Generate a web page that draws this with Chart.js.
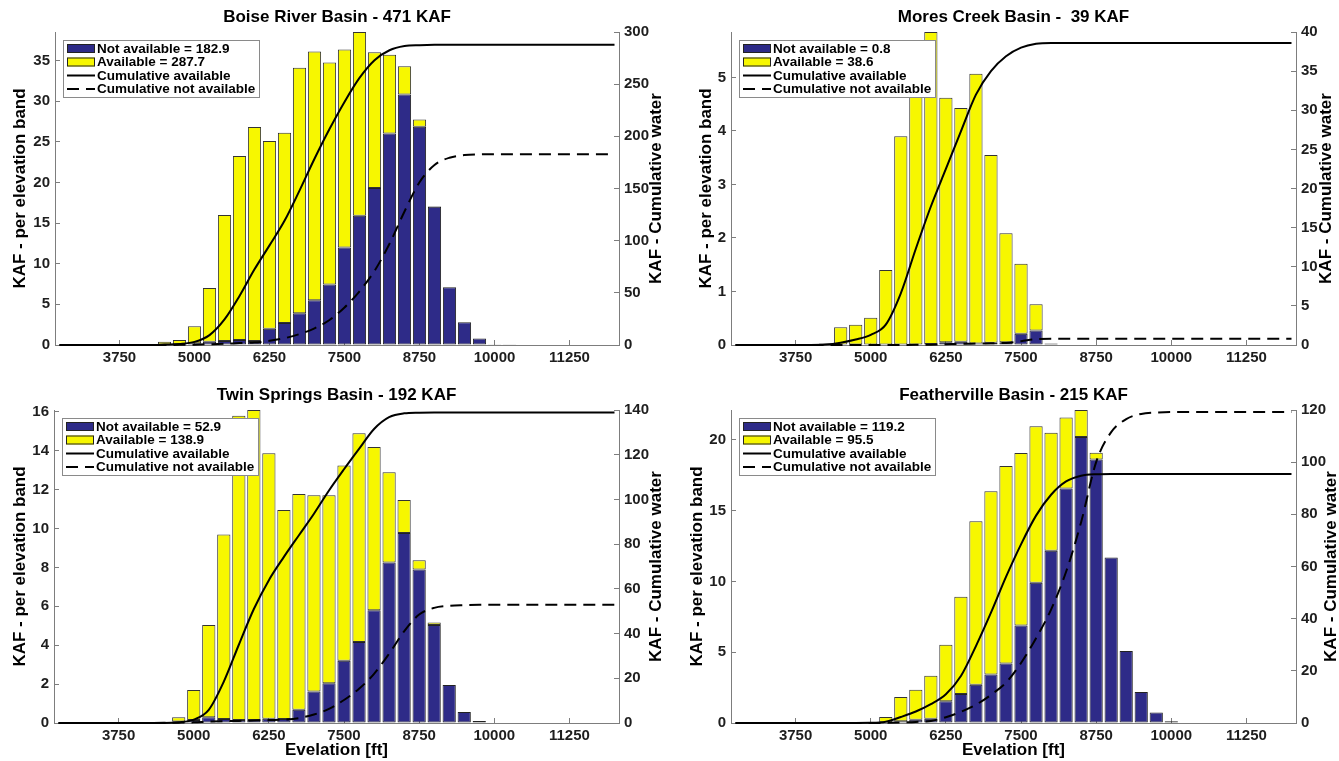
<!DOCTYPE html>
<html>
<head>
<meta charset="utf-8">
<script src="https://cdn.jsdelivr.net/npm/chart.js@4.4.1/dist/chart.umd.min.js"></script>
<style>
html,body{margin:0;padding:0;background:#ffffff;}
body{width:1339px;height:761px;position:relative;overflow:hidden;}
canvas{position:absolute;display:block;}
</style>
</head>
<body>
<canvas id="c0" width="669" height="380" style="left:0px;top:0px"></canvas>
<canvas id="c1" width="669" height="380" style="left:670px;top:0px"></canvas>
<canvas id="c2" width="669" height="381" style="left:0px;top:380px"></canvas>
<canvas id="c3" width="669" height="381" style="left:670px;top:380px"></canvas>
<script>
// ---------------- DATA ----------------
const elevation = [2750,3000,3250,3500,3750,4000,4250,4500,4750,5000,5250,5500,5750,6000,6250,6500,6750,7000,7250,7500,7750,8000,8250,8500,8750,9000,9250,9500,9750,10000,10250,10500,10750,11000,11250,11500,11750,12000];
const xTickLabels = [3750,5000,6250,7500,8750,10000,11250];

const boiseNotAvailable = [0,0,0,0,0,0,0,0.05,0.1,0.2,0.4,0.5,0.6,0.5,2.0,2.7,3.9,5.5,7.45,12.0,15.9,19.3,26.0,30.8,26.85,17.0,7.1,2.8,0.8,0.1,0.02,0,0,0,0,0,0,0];
const boiseAvailable = [0,0,0,0,0,0,0,0.35,0.5,2.1,6.6,15.5,22.65,26.3,23.1,23.4,30.2,30.6,27.3,24.35,22.6,16.7,9.7,3.5,0.9,0.07,0,0,0,0,0,0,0,0,0,0,0,0];
const boiseCumAvailable = [0,0,0,0,0,0,0,0.4,1.0,3.0,9.5,24.5,47,72.5,95.5,119,148,178.5,207,233,256,273,282.5,286.5,287.4,287.7,287.7,287.7,287.7,287.7,287.7,287.7,287.7,287.7,287.7,287.7,287.7,287.7];
const boiseCumNotAvailable = [0,0,0,0,0,0,0,0.05,0.15,0.35,0.75,1.2,1.8,2.3,4.0,6.5,10.5,16,24,36,51.5,71,97,128,156,172.5,179.5,182,182.7,182.9,182.9,182.9,182.9,182.9,182.9,182.9,182.9,182.9];
const boiseLeftTicks = [0,5,10,15,20,25,30,35];
const boiseRightTicks = [0,50,100,150,200,250,300];

const moresNotAvailable = [0,0,0,0,0,0,0,0,0,0,0,0.01,0.01,0.02,0.05,0.06,0.03,0.04,0.05,0.21,0.27,0.02,0,0,0,0,0,0,0,0,0,0,0,0,0,0,0,0];
const moresAvailable = [0,0,0,0,0,0,0.03,0.33,0.38,0.51,1.40,3.89,4.92,5.83,4.57,4.37,5.04,3.51,2.04,1.31,0.49,0.01,0,0,0,0,0,0,0,0,0,0,0,0,0,0,0,0];
const moresCumAvailable = [0,0,0,0,0,0,0.05,0.3,0.7,1.3,2.6,6.6,12.3,17.7,22.5,27.3,32.0,35.0,36.9,38.0,38.5,38.6,38.6,38.6,38.6,38.6,38.6,38.6,38.6,38.6,38.6,38.6,38.6,38.6,38.6,38.6,38.6,38.6];
const moresCumNotAvailable = [0,0,0,0,0,0,0,0,0,0,0,0.01,0.02,0.04,0.09,0.15,0.18,0.22,0.27,0.48,0.75,0.8,0.8,0.8,0.8,0.8,0.8,0.8,0.8,0.8,0.8,0.8,0.8,0.8,0.8,0.8,0.8,0.8];
const moresLeftTicks = [0,1,2,3,4,5];
const moresRightTicks = [0,5,10,15,20,25,30,35,40];

const twinNotAvailable = [0,0,0,0,0,0,0.03,0.05,0.08,0.15,0.3,0.2,0.15,0.15,0.22,0.2,0.68,1.62,2.05,3.2,4.17,5.8,8.25,9.77,7.89,5.04,1.96,0.56,0.1,0.02,0,0,0,0,0,0,0,0];
const twinAvailable = [0,0,0,0,0,0,0,0,0.22,1.55,4.74,9.5,15.65,15.95,13.65,10.76,11.1,10.09,9.66,10.05,10.73,8.4,4.65,1.7,0.48,0.13,0,0,0,0,0,0,0,0,0,0,0,0];
const twinCumAvailable = [0,0,0,0,0,0,0,0,0.3,1.5,5.9,18.5,35,51,63.9,74.3,84,93.6,104,113.5,122.6,131.5,136.8,138.5,138.8,138.9,138.9,138.9,138.9,138.9,138.9,138.9,138.9,138.9,138.9,138.9,138.9,138.9];
const twinCumNotAvailable = [0,0,0,0,0,0,0.03,0.08,0.16,0.3,0.6,0.8,0.95,1.1,1.3,1.5,2.2,3.8,6.3,10.3,15.3,22,31,41,48.5,51.5,52.4,52.7,52.85,52.9,52.9,52.9,52.9,52.9,52.9,52.9,52.9,52.9];
const twinLeftTicks = [0,2,4,6,8,10,12,14,16];
const twinRightTicks = [0,20,40,60,80,100,120,140];

const featherNotAvailable = [0,0,0,0,0,0,0,0,0,0,0.05,0.12,0.23,0.3,1.53,2.04,2.7,3.43,4.2,6.88,9.9,12.16,16.55,20.19,18.6,11.69,5.09,2.18,0.75,0.12,0,0,0,0,0,0,0,0];
const featherAvailable = [0,0,0,0,0,0,0,0,0,0.05,0.37,1.71,2.12,3.03,3.99,6.88,11.55,12.93,13.95,12.18,11.06,8.33,5.02,1.91,0.48,0,0,0,0,0,0,0,0,0,0,0,0,0];
const featherCumAvailable = [0,0,0,0,0,0,0,0,0,0.05,0.5,2.3,4.4,7.2,11,18,29.5,42.3,56,68.5,79.5,87.5,92.6,94.8,95.4,95.5,95.5,95.5,95.5,95.5,95.5,95.5,95.5,95.5,95.5,95.5,95.5,95.5];
const featherCumNotAvailable = [0,0,0,0,0,0,0,0,0,0,0.05,0.2,0.4,0.8,2.2,4.3,7.0,10.8,15.5,23,32.5,43.5,58,77,100,111.5,116.5,118.5,119.0,119.2,119.2,119.2,119.2,119.2,119.2,119.2,119.2,119.2];
const featherLeftTicks = [0,5,10,15,20];
const featherRightTicks = [0,20,40,60,80,100,120];

const panelTitles = ['Boise River Basin - 471 KAF','Mores Creek Basin -  39 KAF','Twin Springs Basin - 192 KAF','Featherville Basin - 215 KAF'];
const notAvailableLabels = ['Not available = 182.9','Not available = 0.8','Not available = 52.9','Not available = 119.2'];
const availableLabels = ['Available = 287.7','Available = 38.6','Available = 138.9','Available = 95.5'];
const leftMax = [38.5, 5.85, 16.1, 22.1];
const rightMax = [300, 40, 140, 120];
const leftAxisTitle = 'KAF - per elevation band';
const rightAxisTitle = 'KAF - Cumulative water';
const xAxisTitle = 'Evelation [ft]';

// ---------------- STYLE / LAYOUT ----------------
const FONT = '"Liberation Sans", Arial, Helvetica, sans-serif';
const BLUE = '#2e2b88';
const YELLOW = '#f7f700';
const AXIS = '#7d7d7d';
const TEXT = '#1e1e1e';

const layouts = [
  {w:669,h:380,left:55,right:619,top:32,bottom:345,yTitlePad:10.3,rTitleX:656,xTitle:false},
  {w:669,h:380,left:61,right:626,top:32,bottom:345,yTitlePad:25.8,rTitleX:656,xTitle:false},
  {w:669,h:381,left:54,right:619,top:30,bottom:343,yTitlePad:9.8,rTitleX:656,xTitle:true},
  {w:669,h:381,left:61,right:626,top:30,bottom:343,yTitlePad:16.8,rTitleX:661,xTitle:true}
];

const decor = {
  id: 'decor',
  afterDatasetsDraw(chart, args, o) {
    const ctx = chart.ctx, ca = chart.chartArea;
    ctx.save();
    ctx.font = 'bold 13.5px ' + FONT;
    const dss = chart.data.datasets;
    let maxW = 0;
    dss.forEach(d => { maxW = Math.max(maxW, ctx.measureText(d.label).width); });
    const lx = Math.round(ca.left + 8), ly = Math.round(ca.top + 8);
    const lw = Math.round(34 + maxW + 4), lh = 57;
    ctx.fillStyle = '#ffffff';
    ctx.fillRect(lx, ly, lw, lh);
    ctx.strokeStyle = '#8a8a8a'; ctx.lineWidth = 1;
    ctx.strokeRect(lx + 0.5, ly + 0.5, lw, lh);
    dss.forEach((d, i) => {
      const cy = ly + 8.5 + i * 13.5;
      const sx = lx + 4, sw = 28;
      if (d.type === 'bar') {
        ctx.fillStyle = d.backgroundColor;
        ctx.fillRect(sx, cy - 4.5, sw, 9);
        ctx.strokeStyle = '#222'; ctx.lineWidth = 1;
        ctx.strokeRect(sx + 0.5, cy - 4, sw - 1, 8);
      } else {
        ctx.setLineDash(d.borderDash || []);
        ctx.beginPath(); ctx.moveTo(sx, cy); ctx.lineTo(sx + sw, cy);
        ctx.strokeStyle = d.borderColor; ctx.lineWidth = 2; ctx.stroke();
        ctx.setLineDash([]);
      }
      ctx.fillStyle = '#000';
      ctx.textBaseline = 'middle'; ctx.textAlign = 'left';
      ctx.fillText(d.label, lx + 34, cy + 0.5);
    });
    ctx.restore();
  },
  afterDraw(chart, args, o) {
    const ctx = chart.ctx, ca = chart.chartArea;
    ctx.save();
    ctx.fillStyle = '#000';
    ctx.font = 'bold 17px ' + FONT;
    ctx.textAlign = 'center'; ctx.textBaseline = 'middle';
    ctx.fillText(o.title, (ca.left + ca.right) / 2, ca.top - 15);
    ctx.translate(o.rTitleX, (ca.top + ca.bottom) / 2);
    ctx.rotate(-Math.PI / 2);
    ctx.fillText(o.rightTitle, 0, 0);
    ctx.restore();
  }
};

function zeroPad(s) { s.paddingLeft = 0; s.paddingRight = 0; s.paddingTop = 0; s.paddingBottom = 0; }
function tickSetter(arr) { return s => { s.ticks = arr.map(v => ({value: v})); }; }

function makePanel(i, notAvail, avail, cumAvail, cumNot, lTicks, rTicks) {
  const L = layouts[i];
  const pts = arr => elevation.map((x, k) => ({x: x, y: arr[k]}));
  const tickFont = {family: FONT, size: 15, weight: 'bold'};
  new Chart(document.getElementById('c' + i), {
    type: 'bar',
    plugins: [decor],
    data: {
      datasets: [
        {type: 'bar', label: notAvailableLabels[i], data: pts(notAvail), backgroundColor: BLUE, borderColor: '#222', borderWidth: 1, borderSkipped: false, yAxisID: 'y', order: 2, barPercentage: 0.88, categoryPercentage: 1.0},
        {type: 'bar', label: availableLabels[i], data: pts(avail), backgroundColor: YELLOW, borderColor: '#333', borderWidth: 1, borderSkipped: false, yAxisID: 'y', order: 2, barPercentage: 0.88, categoryPercentage: 1.0},
        {type: 'line', label: 'Cumulative available', data: pts(cumAvail), borderColor: '#000', borderWidth: 2, pointRadius: 0, tension: 0.4, cubicInterpolationMode: 'monotone', yAxisID: 'y1', order: 1, clip: false, fill: false},
        {type: 'line', label: 'Cumulative not available', data: pts(cumNot), borderColor: '#000', borderWidth: 2, borderDash: [12, 7], pointRadius: 0, tension: 0.4, cubicInterpolationMode: 'monotone', yAxisID: 'y1', order: 1, clip: false, fill: false}
      ]
    },
    options: {
      responsive: false,
      animation: false,
      events: [],
      layout: {padding: {top: L.top, left: 0, right: 0, bottom: 0}},
      plugins: {
        legend: {display: false},
        tooltip: {enabled: false},
        title: {display: false},
        decor: {title: panelTitles[i], rightTitle: rightAxisTitle, rTitleX: L.rTitleX}
      },
      scales: {
        x: {
          type: 'linear', min: 2675, max: 12075, offset: false, stacked: true,
          afterBuildTicks: tickSetter(xTickLabels),
          afterFit: s => { s.height = L.h - L.bottom; zeroPad(s); },
          ticks: {autoSkip: false, maxRotation: 0, minRotation: 0, padding: 9, color: TEXT, font: tickFont, callback: v => String(v)},
          grid: {display: true, drawOnChartArea: false, drawTicks: true, tickLength: -5, color: AXIS, offset: false},
          border: {display: true, color: AXIS, width: 1},
          title: {display: L.xTitle, text: xAxisTitle, color: '#000', font: {family: FONT, size: 17, weight: 'bold'}, padding: {top: 0, bottom: 0.8}}
        },
        y: {
          type: 'linear', position: 'left', min: 0, max: leftMax[i], stacked: true,
          afterBuildTicks: tickSetter(lTicks),
          afterFit: s => { s.width = L.left; zeroPad(s); },
          ticks: {padding: 10, color: TEXT, font: tickFont, callback: v => String(v)},
          grid: {display: true, drawOnChartArea: false, drawTicks: true, tickLength: -5, color: AXIS},
          border: {display: true, color: AXIS, width: 1},
          title: {display: true, text: leftAxisTitle, color: '#000', font: {family: FONT, size: 17, weight: 'bold'}, padding: {top: L.yTitlePad, bottom: 0}}
        },
        y1: {
          type: 'linear', position: 'right', min: 0, max: rightMax[i], stacked: false,
          afterBuildTicks: tickSetter(rTicks),
          afterFit: s => { s.width = L.w - L.right; zeroPad(s); },
          ticks: {padding: 10, color: TEXT, font: tickFont, callback: v => String(v)},
          grid: {display: true, drawOnChartArea: false, drawTicks: true, tickLength: -5, color: AXIS},
          border: {display: true, color: AXIS, width: 1}
        }
      }
    }
  });
}

makePanel(0, boiseNotAvailable, boiseAvailable, boiseCumAvailable, boiseCumNotAvailable, boiseLeftTicks, boiseRightTicks);
makePanel(1, moresNotAvailable, moresAvailable, moresCumAvailable, moresCumNotAvailable, moresLeftTicks, moresRightTicks);
makePanel(2, twinNotAvailable, twinAvailable, twinCumAvailable, twinCumNotAvailable, twinLeftTicks, twinRightTicks);
makePanel(3, featherNotAvailable, featherAvailable, featherCumAvailable, featherCumNotAvailable, featherLeftTicks, featherRightTicks);
</script>
</body>
</html>
